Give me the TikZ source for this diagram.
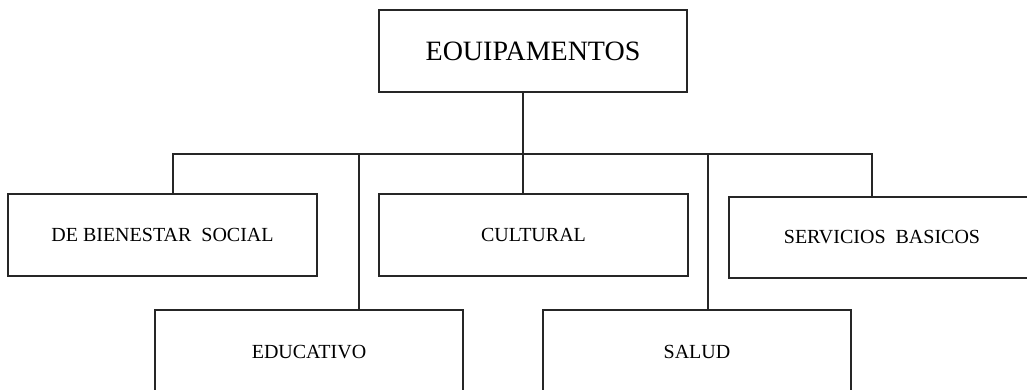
\documentclass[tikz,border=0pt]{standalone}
\usepackage{fontspec}
\setmainfont{Liberation Serif}
\begin{document}
\begin{tikzpicture}[x=1pt,y=-1pt,
  box/.style={draw=black!85,line width=1.3pt,rectangle,minimum height=82pt,minimum width=308pt,inner sep=0pt,font=\fontsize{20}{22}\selectfont},
  conn/.style={draw=black!85,line width=1.3pt}]
\useasboundingbox (0,0) rectangle (1027,389);
\clip (0,0) rectangle (1027,389);
\node[box,font=\fontsize{28}{30}\selectfont] (top) at (533,51) {EOUIPAMENTOS};
\node[box,minimum width=309pt] (bien) at (162.5,235) {DE BIENESTAR\ \ SOCIAL};
\node[box,minimum width=309pt] (cult) at (533.5,235) {CULTURAL};
\node[box,minimum width=306pt,minimum height=81pt] (serv) at (882,237.5) {SERVICIOS\ \ BASICOS};
\node[box,minimum height=84pt] (edu) at (309,352) {EDUCATIVO};
\node[box,minimum height=84pt] (sal) at (697,352) {SALUD};
\coordinate (bl) at (173,154);
\coordinate (br) at (872,154);
\coordinate (be) at (359,154);
\coordinate (bs) at (708,154);
\coordinate (bc) at (523,154);
\draw[conn] (bc |- top.south) -- (bc |- cult.north);
\draw[conn] (bl |- bien.north) -- (bl) -- (br) -- (br |- serv.north);
\draw[conn] (be) -- (be |- edu.north);
\draw[conn] (bs) -- (bs |- sal.north);
\end{tikzpicture}
\end{document}
